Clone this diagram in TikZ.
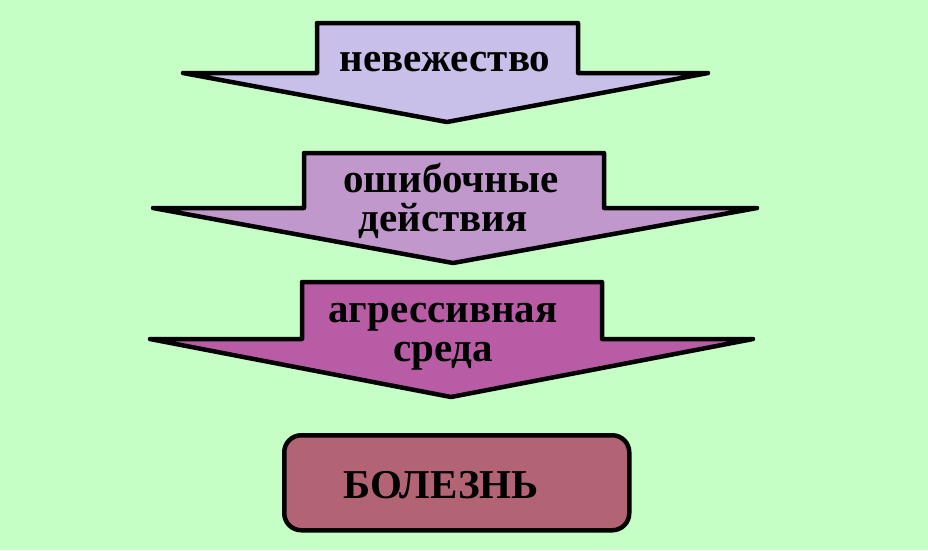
\documentclass[tikz,border=0pt]{standalone}
\usepackage{fontspec}
\newfontfamily\lblfont{Liberation Serif Bold}
\definecolor{bg}{RGB}{198,255,198}
\definecolor{cA}{RGB}{200,192,232}
\definecolor{cB}{RGB}{192,152,204}
\definecolor{cC}{RGB}{184,92,166}
\definecolor{cD}{RGB}{178,100,116}
\tikzset{
  arrowshape/.style={draw=black, line width=4.5pt, line join=round},
  lbl/.style={font=\lblfont\fontsize{41}{42}\selectfont, inner sep=0pt, anchor=base},
  boxshape/.style={draw=black, line width=4.5pt, rounded corners=17pt, fill=cD}
}
\begin{document}
\begin{tikzpicture}[x=1pt,y=-1pt]
\useasboundingbox (0,0) rectangle (928,550);
\fill[bg] (0,0) rectangle (928,550);
% arrow 1
\draw[arrowshape, fill=cA] (317,23) -- (578,23) -- (578,73) -- (708,73) -- (447,122) -- (183,73) -- (317,73) -- cycle;
% arrow 2
\draw[arrowshape, fill=cB] (304,153) -- (604,153) -- (604,208) -- (757,208) -- (453,263) -- (153,208) -- (304,208) -- cycle;
% arrow 3
\draw[arrowshape, fill=cC] (302,282) -- (602,282) -- (602,339) -- (753,339) -- (451,397) -- (150,339) -- (302,339) -- cycle;
% box
\node[boxshape, minimum width=345pt, minimum height=95pt, anchor=north west] (box) at (282,433) {};
\node[lbl] (t1) at (445,71) {невежество};
\node[lbl] (t2a) at (451,192) {ошибочные};
\node[lbl] (t2b) at (443,231) {действия};
\node[lbl] (t3a) at (443,322) {агрессивная};
\node[lbl] (t3b) at (443,361) {среда};
\node[lbl] (t4) at (441,498) {БОЛЕЗНЬ};
\end{tikzpicture}
\end{document}
